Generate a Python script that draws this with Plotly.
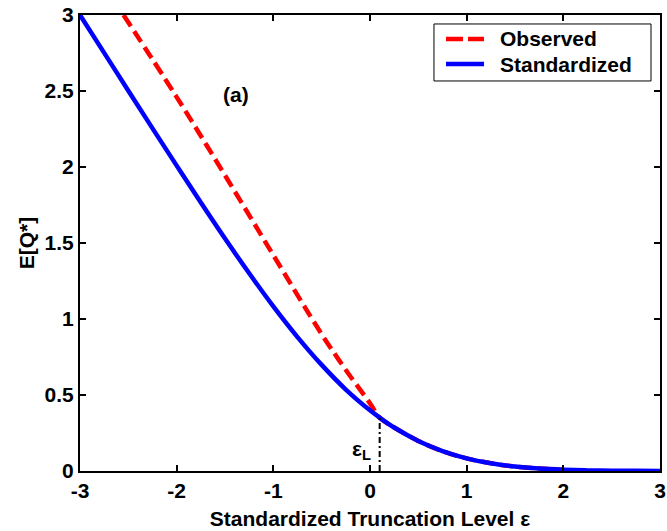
import plotly.graph_objects as go

# Standardized curve (blue)
std_x = [-3.0, -2.75, -2.5, -2.25, -2.0, -1.75, -1.5, -1.25, -1.0, -0.75, -0.5, -0.25,
         0.0, 0.1, 0.25, 0.5, 0.75, 1.0, 1.25, 1.5, 1.75, 2.0, 2.25, 2.5, 2.75, 3.0]
std_y = [3.000, 2.751, 2.502, 2.254, 2.009, 1.766, 1.529, 1.301, 1.083, 0.881, 0.698, 0.536,
         0.399, 0.351, 0.286, 0.198, 0.131, 0.083, 0.051, 0.029, 0.016, 0.0085, 0.004, 0.002, 0.001, 0.0004]

# Observed curve (red dashed)
obs_x = [-2.55, -2.0, -1.5, -1.0, -0.5, -0.25, 0.0, 0.1, 0.25, 0.5, 0.75, 1.0, 1.25, 1.5, 1.75, 2.0]
obs_y = [3.0, 2.46, 1.945, 1.42, 0.90, 0.665, 0.445, 0.351, 0.286, 0.198, 0.131, 0.083, 0.051, 0.029, 0.016, 0.0085]

eps_L = 0.1
eps_L_val = 0.351

x_ticks = [-3, -2, -1, 0, 1, 2, 3]
y_ticks = [0, 0.5, 1, 1.5, 2, 2.5, 3]
y_tick_text = ["0", "0.5", "1", "1.5", "2", "2.5", "3"]
legend_names = ["Observed", "Standardized"]
colors = ["#ff0000", "#0000ff"]

FONT = "Liberation Sans, Arial, sans-serif"
FS = 21
RED_DASH = "13px,6px"

fig = go.Figure()
fig.add_trace(go.Scatter(x=obs_x, y=obs_y, mode="lines", name=legend_names[0],
                         line=dict(color=colors[0], width=4.5, dash=RED_DASH),
                         line_shape="spline", showlegend=False, cliponaxis=True))
fig.add_trace(go.Scatter(x=std_x, y=std_y, mode="lines", name=legend_names[1],
                         line=dict(color=colors[1], width=4.5), line_shape="spline",
                         showlegend=False))
fig.add_trace(go.Scatter(x=[eps_L, eps_L], y=[0, eps_L_val], mode="lines", showlegend=False,
                         line=dict(color="black", width=2, dash="6px,3px,2px,3px")))

fig.add_annotation(x=-1.387, y=2.48, text="<b>(a)</b>", showarrow=False,
                   font=dict(size=FS, family=FONT, color="black"))
fig.add_annotation(x=0.03, y=0.14, text="<b>ε<sub>L</sub></b>", showarrow=False,
                   xanchor="right", yanchor="middle",
                   font=dict(size=FS, family=FONT, color="black"))

# Manual legend (paper coordinates)
fig.add_shape(type="rect", xref="paper", yref="paper", x0=0.6103, x1=0.9845, y0=0.8553, y1=0.9803,
              line=dict(color="black", width=1), fillcolor="white", layer="above")
row_y = [0.9474, 0.8925]
for i, name in enumerate(legend_names):
    fig.add_shape(type="line", xref="paper", yref="paper", x0=0.631, x1=0.6966,
                  y0=row_y[i], y1=row_y[i], layer="above",
                  line=dict(color=colors[i], width=4.5, dash="17px,5px" if i == 0 else "solid"))
    fig.add_annotation(xref="paper", yref="paper", x=0.7207, y=row_y[i], text=f"<b>{name}</b>",
                       showarrow=False, xanchor="left", yanchor="middle",
                       font=dict(size=FS, family=FONT, color="black"))

axis_common = dict(showgrid=False, zeroline=False, ticks="inside", ticklen=6, tickwidth=1.5,
                   tickcolor="black", showline=True, linecolor="black", linewidth=2,
                   mirror="ticks", automargin=False,
                   tickfont=dict(size=FS, family=FONT, color="black"))

fig.update_layout(
    width=667, height=531,
    margin=dict(l=80, r=7, t=15, b=60),
    paper_bgcolor="white", plot_bgcolor="white",
    font=dict(family=FONT, size=FS, color="black"),
    showlegend=False,
    xaxis=dict(range=[-3, 3], tickvals=x_ticks,
               ticktext=[f"<b>{v}</b>" for v in x_ticks],
               title=dict(text="<b>Standardized Truncation Level ε</b>", standoff=10,
                          font=dict(size=FS, family=FONT)),
               **axis_common),
    yaxis=dict(range=[0, 3], tickvals=y_ticks,
               ticktext=[f"<b>{t}</b>" for t in y_tick_text],
               title=dict(text="<b>E[Q*]</b>", standoff=4, font=dict(size=FS, family=FONT)),
               **axis_common),
)

fig.write_html("out.html")
